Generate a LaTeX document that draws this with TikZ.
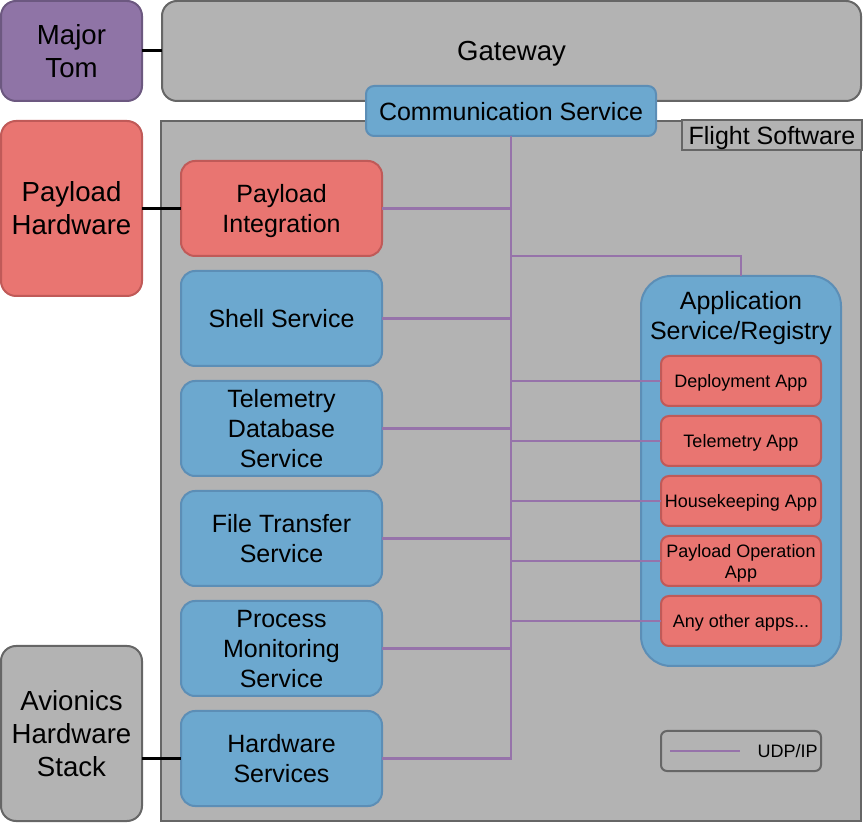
\documentclass[tikz,border=0pt]{standalone}
\usepackage{fontspec}
\setmainfont{Liberation Sans}
\usetikzlibrary{positioning}
\definecolor{boxgray}{RGB}{179,179,179}
\definecolor{edgegray}{RGB}{102,102,102}
\definecolor{svcblue}{RGB}{108,168,207}
\definecolor{svcedge}{RGB}{92,142,182}
\definecolor{appred}{RGB}{233,117,113}
\definecolor{appedge}{RGB}{192,90,88}
\definecolor{tompurple}{RGB}{143,116,166}
\definecolor{tomedge}{RGB}{108,88,128}
\definecolor{buspurple}{RGB}{150,115,170}

\begin{document}
\begin{tikzpicture}[
		x=0.5pt, y=-0.5pt,
		node distance=7.5pt and 19.5pt,
		base/.style={
			draw,
			line width=1pt,
			align=center,
			inner sep=0pt,
			outer sep=0pt,
			text depth=0pt,
			font=\fontsize{12.5}{15}\selectfont
		},
		bigbase/.style={
			base,
			font=\fontsize{13.8}{16.5}\selectfont
		},
		svc/.style={base, draw=svcedge, fill=svcblue, rounded corners=7pt, minimum width=100.5pt, minimum height=47.5pt},
		pay/.style={base, draw=appedge, fill=appred, rounded corners=7pt, minimum width=100.5pt, minimum height=47.5pt},
		app/.style={base, draw=appedge, fill=appred, rounded corners=4pt, minimum width=80pt, minimum height=25pt, font=\fontsize{9}{10.5}\selectfont},
		outerbox/.style={bigbase, rounded corners=7.5pt, minimum width=70.5pt},
		container/.style={draw=edgegray, fill=boxgray, line width=1pt, minimum width=350pt, minimum height=350pt, inner sep=0pt},
		tagbox/.style={base, draw=edgegray, fill=boxgray, minimum width=90pt, minimum height=15pt},
		legendbox/.style={draw=edgegray, fill=boxgray, line width=1pt, rounded corners=3pt, minimum width=80pt, minimum height=20pt, inner sep=0pt},
		bus/.style={draw=buspurple, line width=1.1pt},
		link/.style={draw=black, line width=1.5pt}
		]
		
		\useasboundingbox (0,0) rectangle (863,823);
		
		\node[bigbase, draw=edgegray, fill=boxgray, rounded corners=7.5pt, minimum width=349.5pt, minimum height=50pt] (gw) at (511.5,51) {Gateway};
		\node[outerbox, draw=tomedge, fill=tompurple, minimum height=50pt, left=10pt of gw] (tom) {Major\\Tom};
		
		\node[container] (fsw) at (511,471) {};
		\node[tagbox, anchor=north east] (fswtag) at (fsw.north east) {Flight Software};
		
		\node[svc, rounded corners=4pt, minimum width=145pt, minimum height=25pt] (comm) at (511,111) {Communication Service};
		
		\node[pay] (pint) at (281.5,208.5) {Payload\\Integration};
		\node[svc, below=of pint] (shell) {Shell Service};
		\node[svc, below=of shell] (tdb) {Telemetry\\Database\\Service};
		\node[svc, below=of tdb] (ftp) {File Transfer\\Service};
		\node[svc, below=of ftp] (pms) {Process\\Monitoring\\Service};
		\node[svc, below=of pms] (hws) {Hardware\\Services};
		
		\node[outerbox, draw=appedge, fill=appred, minimum height=87.5pt, left=of pint] (phw) {Payload\\Hardware};
		\node[outerbox, draw=edgegray, fill=boxgray, minimum height=87.5pt] (avs) at (71.5,733.5) {Avionics\\Hardware\\Stack};
		
		\node[svc, rounded corners=15pt, minimum width=100pt, minimum height=195pt,
		label={[anchor=north, yshift=-4pt, align=center, font=\fontsize{12.5}{15}\selectfont]north:Application\\Service/Registry}] (appsvc) at (741,471) {};
		\node[app] (depapp) at (741,381) {Deployment App};
		\node[app, below=5pt of depapp] (telapp) {Telemetry App};
		\node[app, below=5pt of telapp] (hkapp) {Housekeeping App};
		\node[app, below=5pt of hkapp] (popapp) {Payload Operation\\App};
		\node[app, below=5pt of popapp] (anyapp) {Any other apps...};
		
		\node[legendbox] (legend) at (741,751) {};
		\node[font=\fontsize{9}{10.5}\selectfont, anchor=east, inner sep=2pt] (udp) at (legend.east) {UDP/IP};
		\draw[bus] ([xshift=5pt]legend.west) -- ([xshift=40pt]legend.west);
		
		\draw[bus] (comm.south) |- (hws.east);
		\foreach \n in {pint, shell, tdb, ftp, pms}
		\draw[bus] (\n.east) -- (\n.east -| comm.south);
		\foreach \n in {depapp, telapp, hkapp, popapp, anyapp}
		\draw[bus] (\n.west) -- (\n.west -| comm.south);
		\draw[bus] (pint.south -| comm.south) -| (appsvc.north);
		
		\draw[link] (tom) -- (gw);
		\draw[link] (phw) -- (pint);
		\draw[link] (avs.east |- hws.west) -- (hws.west);
		
	\end{tikzpicture}
\end{document}
